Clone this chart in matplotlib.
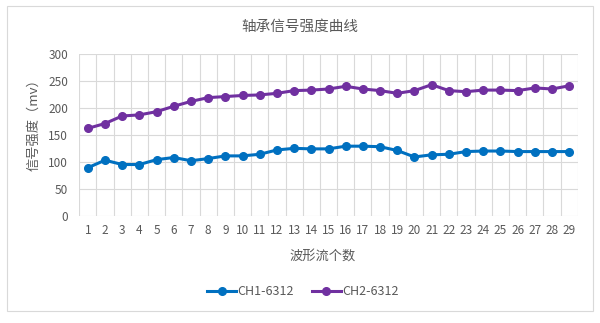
import numpy as np
import matplotlib.pyplot as plt
from matplotlib.patches import Rectangle

plt.rcParams['font.family'] = ['Noto Sans CJK SC', 'DejaVu Sans']

x = list(range(1, 30))
ch1 = [89, 103, 95, 95, 104, 108, 102, 106, 111, 111, 114, 122, 125, 124, 124,
       129, 129, 128, 121, 109, 113, 114, 119, 120, 120, 119, 119, 119, 119]
ch2 = [162, 171, 185, 187, 193, 203, 212, 219, 221, 223, 224, 227, 232, 233, 235,
       240, 235, 232, 227, 232, 243, 232, 230, 233, 233, 232, 237, 235, 241]
labels = ['CH1-6312', 'CH2-6312']

grey = '#595959'
fig = plt.figure(figsize=(6, 3.23), dpi=100)
ax = fig.add_axes([0.132, 0.332, 0.831, 0.501])

ax.plot(x, ch1, color='#0070C0', lw=2.2, marker='o', ms=5.5, label=labels[0])
ax.plot(x, ch2, color='#7030A0', lw=2.2, marker='o', ms=5.5, label=labels[1])

ax.set_xlim(0.5, 29.5)
ax.set_ylim(0, 300)
ax.set_yticks(range(0, 301, 50))
ax.set_xticks(x)
ax.set_xticks(np.arange(0.5, 30, 1), minor=True)
ax.grid(True, which='major', axis='y', color='#d9d9d9', lw=0.8)
ax.grid(True, which='minor', axis='x', color='#d9d9d9', lw=0.8)
ax.tick_params(which='both', length=0, labelsize=8.5, colors=grey)
ax.tick_params(axis='x', pad=6)
ax.tick_params(axis='y', pad=8)
for s in ax.spines.values():
    s.set_visible(False)
ax.set_axisbelow(True)

fig.text(0.5, 0.916, '轴承信号强度曲线', fontsize=10.5, color=grey,
         ha='center', va='center')
fig.text(0.538, 0.208, '波形流个数', fontsize=9.5, color=grey,
         ha='center', va='center')
fig.text(0.057, 0.622, '信号强度（mv）', fontsize=9.5, color=grey,
         ha='center', va='center', rotation=90)

fig.legend(loc='center', bbox_to_anchor=(0.505, 0.096), ncol=2, frameon=False,
           fontsize=9, labelcolor=grey, handlelength=2.3, handletextpad=0.15,
           columnspacing=1.4)

fig.add_artist(Rectangle((0.0122, 0.038), 0.9757, 0.944, transform=fig.transFigure,
                         fill=False, edgecolor='#d9d9d9', lw=0.8))

fig.savefig('out.png', dpi=100)
